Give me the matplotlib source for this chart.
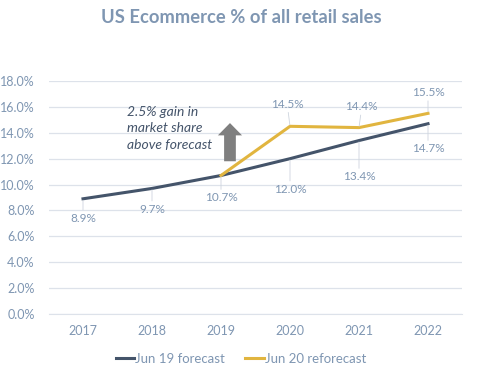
import matplotlib.pyplot as plt
from matplotlib.patches import FancyArrow

years = ["2017", "2018", "2019", "2020", "2021", "2022"]
jun19_forecast = [8.9, 9.7, 10.7, 12.0, 13.4, 14.7]
jun20_years = ["2019", "2020", "2021", "2022"]
jun20_reforecast = [10.7, 14.5, 14.4, 15.5]

navy = "#44546A"
gold = "#E1B53F"
tick_color = "#7F96B2"
grid_color = "#DDE2EA"

plt.rcParams["font.family"] = ["Lato", "DejaVu Sans"]

fig = plt.figure(figsize=(4.82, 3.77), dpi=100)
ax = fig.add_axes([48.5 / 482, 1 - 314 / 377, 414 / 482, 233 / 377])

x1 = list(range(len(years)))
x2 = [years.index(y) for y in jun20_years]
ax.plot(x1, jun19_forecast, color=navy, lw=2.2, label="Jun 19 forecast", zorder=3)
ax.plot(x2, jun20_reforecast, color=gold, lw=2.2, label="Jun 20 reforecast", zorder=3)

# data labels with thin leader lines
below = [10, 11, 12, 18, 22, 14]
lead = dict(arrowstyle="-", color="#CDD4DE", lw=0.6, shrinkA=0, shrinkB=1)
for xi, v, off in zip(x1, jun19_forecast, below):
    ax.annotate(f"{v:.1f}%", xy=(xi, v), xytext=(0, -off), textcoords="offset points",
                ha="center", va="top", fontsize=8.5, color=tick_color, arrowprops=lead)
above = [None, 12, 11, 11]
for xi, v, off in zip(x2, jun20_reforecast, above):
    if off is None:
        continue
    ax.annotate(f"{v:.1f}%", xy=(xi, v), xytext=(-2 if xi == 3 else 2 if xi == 4 else 0, off),
                textcoords="offset points", ha="center", va="bottom", fontsize=8.5,
                color=tick_color, arrowprops=lead)

ax.add_patch(FancyArrow(2.13, 11.8, 0, 2.95, width=0.17, head_width=0.35, head_length=0.95,
                        length_includes_head=True, color="#7F7F7F", lw=0, zorder=2))
ax.text(0.64, 16.1, "2.5% gain in\nmarket share\nabove forecast", style="italic",
        fontsize=10, color=navy, ha="left", va="top", linespacing=1.45)

ax.set_xlim(-0.5, len(years) - 0.5)
ax.set_ylim(0, 18)
ax.set_xticks(x1)
ax.set_xticklabels(years)
ax.set_yticks([i * 2 for i in range(10)])
ax.set_yticklabels([f"{i * 2:.1f}%" for i in range(10)])
ax.tick_params(length=0, labelsize=9, colors=tick_color)
ax.tick_params(axis="x", pad=8)
ax.tick_params(axis="y", pad=10)
ax.grid(axis="y", color=grid_color, lw=0.9)
ax.set_axisbelow(True)
for s in ["left", "right", "top"]:
    ax.spines[s].set_visible(False)
ax.spines["bottom"].set_color(grid_color)

fig.suptitle("US Ecommerce % of all retail sales", x=0.5, y=0.975, fontsize=13.2,
             fontweight="bold", color=tick_color)
leg = fig.legend(loc="center", bbox_to_anchor=(0.5, 1 - 359 / 377), ncol=2, frameon=False,
                 fontsize=9.5, handlelength=1.4, handletextpad=0.1, columnspacing=1.5)
for t in leg.get_texts():
    t.set_color(tick_color)

fig.savefig("out.png", dpi=100)
